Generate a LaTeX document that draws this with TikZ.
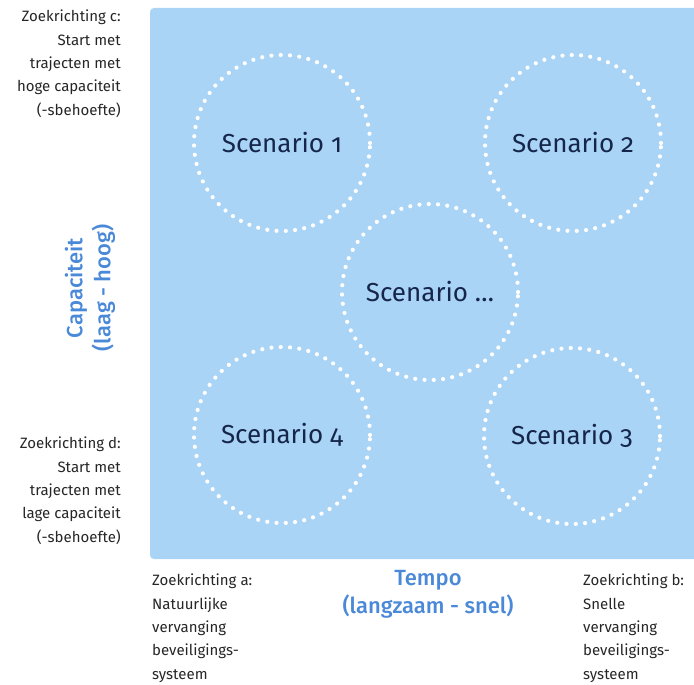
\documentclass[tikz,border=0pt]{standalone}
\usepackage{fontspec}
\setmainfont{Fira Sans}[Numbers=OldStyle]
\newfontfamily\asfont{Fira Sans Medium}
\definecolor{vlak}{HTML}{A9D4F6}
\definecolor{scentekst}{HTML}{15264A}
\definecolor{asblauw}{HTML}{4A88D8}
\definecolor{zijtekst}{HTML}{262626}
\tikzset{
    scen/.style = {circle, minimum size=176pt, draw=white, line width=4.2pt,
        dash pattern=on 0pt off 9.3pt, line cap=round, text=scentekst,
        font=\fontsize{26}{30}\selectfont},
    zoek/.style = {text=zijtekst, inner sep=0pt, font=\fontsize{15}{23.3}\selectfont},
    as/.style = {text=asblauw, inner sep=0pt, align=center, font=\asfont\fontsize{22}{28}\selectfont}
}

\begin{document}
\begin{tikzpicture}[x=1pt, y=-1pt]
    \useasboundingbox (0,0) rectangle (694,685);
    \fill[vlak, rounded corners=4pt] (150,8) rectangle (704,559);

    \node[scen] (sc1) at (282,143) {Scenario 1};
    \node[scen] (sc2) at (573,143) {Scenario 2};
    \node[scen] (scx) at (430,292) {Scenario \dots};
    \node[scen] (sc4) at (282,435) {Scenario 4};
    \node[scen] (sc3) at (572,436) {Scenario 3};

    \node[zoek, anchor=north east, align=right] (zoekc) at (121,10)
        {Zoekrichting c:\\Start met\\trajecten met\\hoge capaciteit\\(-sbehoefte)};
    \node[zoek, anchor=north east, align=right] (zoekd) at (121,437)
        {Zoekrichting d:\\Start met\\trajecten met\\lage capaciteit\\(-sbehoefte)};
    \node[zoek, anchor=north west, align=left] (zoeka) at (152,574)
        {Zoekrichting a:\\Natuurlijke\\vervanging\\beveiligings-\\systeem};
    \node[zoek, anchor=north west, align=left] (zoekb) at (583,574)
        {Zoekrichting b:\\Snelle\\vervanging\\beveiligings-\\systeem};

    \node[as, anchor=north] (tempo) at (428,570) {Tempo\\(langzaam - snel)};
    \node[as, rotate=90] (capac) at (90,288) {Capaciteit\\(laag - hoog)};
\end{tikzpicture}
\end{document}
